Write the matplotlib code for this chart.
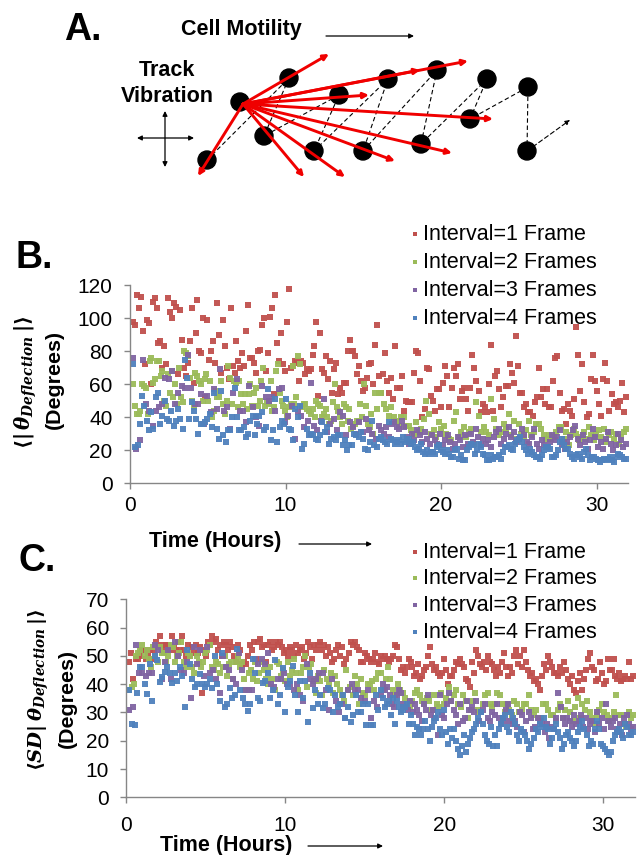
import numpy as np
import matplotlib
matplotlib.use("Agg")
import matplotlib.pyplot as plt
from matplotlib.patches import Ellipse

plt.rcParams['font.family'] = ['Liberation Sans', 'DejaVu Sans']
plt.rcParams['mathtext.fontset'] = 'custom'
plt.rcParams['mathtext.it'] = 'DejaVu Serif:italic:bold'
plt.rcParams['mathtext.rm'] = 'DejaVu Serif:bold'
plt.rcParams['mathtext.bf'] = 'DejaVu Serif:bold'
plt.rcParams['mathtext.fallback'] = 'stix'

COLORS = ['#C0504D', '#9BBB59', '#8064A2', '#4F81BD']
LABELS = ['Interval=1 Frame', 'Interval=2 Frames', 'Interval=3 Frames', 'Interval=4 Frames']
X_TICKS = [0, 10, 20, 30]
B_TICKS = [0, 20, 40, 60, 80, 100, 120]
C_TICKS = [0, 10, 20, 30, 40, 50, 60, 70]

b_red_early = [98,96,114,106,113,92,72,99,97,60,110,112,106,85,86,70,83,72,112,104,100,109,107,66,105,87,70,65,73,86,106,61,91,111,80,79,100,52,99,75,80,86,73,109,90,67,99,83,70,63,106,71,67,86,74,70,79,71,92,108,76,76,73,67,80,81,96,100,68,79,101,106,54,114,85,74,91,72,68,98,118,70,71,74,73,62,74,73,66,69,68,69,78,83,98,53,91,69,67,77,63,74,55,69,73,54,58,55,61,61,80,87,80,80,77,66,71,62,56,58,64,72,73,60,84,96]
b_red_late = [65,55,66,79,62,55,64,51,83,58,58,65,44,50,49,49,49,67,80,79,62,40,45,70,69,53,50,44,57,57,46,61,71,65,46,58,70,65,72,51,56,58,51,44,58,78,70,62,56,43,48,46,43,60,84,44,65,68,57,46,52,59,59,72,67,61,89,71,55,55,46,48,43,43,41,49,52,70,52,57,48,57,46,46,62,76,77,55,44,45,36,48,44,41,51,95,78,56,72,49,40,42,63,78,62,56,48,41,63,73,62,44,54,48,49,46,50,61,43,52]
b_green_early = [60,47,42,42,44,60,59,58,42,74,76,61,63,74,74,65,68,50,47,66,55,68,52,60,48,70,52,49,80,79,77,64,50,46,67,65,62,60,50,63,66,50,62,40,44,56,52,52,62,48,42,50,71,64,48,62,61,46,62,54,48,54,45,54,60,47,55,58,47,50,62,70,47,49,48,62,44,46,68,72,55,50,47,44,40,46,48,71,48,52,77,72,46,48,48,45,44,42,45,40,50,48,47,40,42,45,40,36,38,49,60,46,44,40,36,48,46,38,45,33,35,36,38,38,48,40,60,47,36,34,42,30,55,45]
b_green_late = [55,55,48,45,41,46,40,38,35,40,40,35,35,32,30,37,31,33,39,50,42,30,32,28,37,33,35,30,27,26,38,43,28,31,34,28,31,33,24,49,41,31,34,31,29,51,39,33,29,31,36,33,42,29,38,27,36,30,28,32,38,29,31,36,36,33,29,27,29,27,28,31,34,34,27,31,23,29,33,30,26,28,31,27,34,29,26,30,32,28,33,25,29,31,27,30,24,28,31,33]
b_purple_early = [76,21,26,75,48,44,35,44,46,48,64,63,68,48,55,59,58,78,58,48,48,54,36,53,43,57,45,69,44,46,33,55,63,44,44,37,59,46,40,35,59,52,50,52,44,57,58,37,41,47,27,43,41,34,38,61,35,32,38,51,31,36,39,32,43,41,29,37,34,30,37,31,39,32,30,27]
b_purple_late = [35,32,30,34,28,36,37,34,33,38,34,28,24,30,26,32,29,25,31,27,24,29,26,24,30,23,26,29,25,21,24,28,26,22,29,24,30,25,33,28,23,27,24,26,22,28,31,33,24,27,30,34,28,31,25,27,33,29,25,24,28,33,24,21,26,23,22,25,29,26,28,32,24,21,25,28,32,35,27,23,29,25,21,26,33,28,22,25,21,27,31,24,20,23,30,26,22,24]
b_blue_early = [72,22,23,36,53,47,38,32,43,33,52,55,36,41,50,39,38,44,35,38,45,39,33,75,64,39,49,44,39,30,36,36,37,39,42,34,55,33,27,56,29,25,32,32,40,58,40,32,32,34,28,30,38,41,29,36,41,43,32,34,57,26,32,51,25,34,38,36,51,33,32,26,45,40,47,21,24,33,29,30,29,27,26,29,37,31,34,24,27,28,26,29,29,23,26,20,23,23,30,29,28,31,27,21,20,25,38,23,22]
b_blue_late = [27,28,26,25,24,37,27,26,24,25,26,24,28,25,26,27,24,25,22,20,21,24,19,18,20,18,19,19,18,22,23,20,19,18,20,18,16,16,20,21,15,17,14,14,20,22,24,23,18,20,24,22,18,17,14,14,17,15,16,16,17,15,19,22,22,23,21,20,24,26,28,25,22,20,18,21,19,17,16,16,15,17,20,22,22,21,16,16,17,20,25,27,23,21,21,18,16,15,17,18,16,15,19,21,17,14,16,16,15,14,13,14,15,14,15,16,14,13,16,18,17,16,15,15]

c_red_early = [48,51,42,49,49,50,52,52,49,50,52,49,52,55,53,57,54,53,54,54,52,57,53,52,55,52,57,52,50,54,50,53,51,54,51,53,37,52,50,55,54,57,55,56,52,54,50,55,54,52,55,53,50,48,54,52,47,48,47,50,54,52,55,49,55,56,53,54,48,54,55,52,53,55,54,55,53,51,52,50,53,52,50,54,51,52,53,49,51,55,53,49,54,52,54,55,52,54,50,53,51,48,49,52,54,50,53,47,49,51,55,54,55,53,52,48,48,51,50,49,48,49,51,48,47]
c_red_late = [50,49,50,49,48,49,50,54,53,49,45,46,44,46,49,48,46,43,44,47,42,43,45,46,50,53,47,45,46,44,43,44,49,45,40,43,43,45,48,47,49,47,46,42,41,39,48,44,52,50,47,46,48,45,50,48,47,45,43,46,44,48,51,46,43,46,44,50,52,47,50,46,52,48,45,43,44,41,42,40,38,43,47,45,50,48,46,44,44,43,46,44,48,45,42,40,43,38,37,41,44,38,42,45,49,51,46,45,41,42,48,44,40,41,49,45,45,49,43,42,44,41,42,43,42,48,42,43]
c_green_early = [38,39,40,50,51,52,54,50,52,49,46,53,50,48,53,51,51,48,50,54,53,48,50,51,55,48,46,51,50,46,44,50,48,46,48,51,52,54,46,45,48,47,44,46,50,43,47,48,42,48,50,46,48,42,38,44,45,42,48,41,44,48,45,42,40,46,42,38,48,47,43,45,41,48,43,45,49,44,38,44,46,50,39,46,47,41,37,43,41,36,45,42,40,44,37,43,40,38,36,34,45,38,39,36,43,40,33,42,37,36,40,40,41,38,42,44]
c_green_late = [44,38,42,46,42,38,36,40,38,37,35,33,32,34,37,38,36,34,33,35,34,31,36,33,32,37,33,35,39,34,36,38,33,32,36,34,28,31,34,37,31,30,33,36,37,33,32,33,37,36,33,30,33,31,29,34,33,30,31,33,33,36,31,29,31,28,28,33,33,31,29,29,27,31,33,28,31,34,30,27,32,35,28,33,31,34,30,28,26,29,31,33,30,29,27,28,30,36,29,29,26,25,30,28,29]
c_purple_early = [31,32,54,44,44,43,44,44,54,52,42,48,52,42,55,50,45,44,48,35,53,47,52,43,53,44,45,42,37,50,46,45,42,40,51,45,38,38,38,49,47,49,47,51,40,39,42,42,44,40,40,38,40,36,34,47,42,40,42,44,44,38,31,42,34,30,33,28,38,40,38,38,35,34,38,28,34,32]
c_purple_late = [36,40,38,39,36,33,32,36,38,37,33,32,31,34,30,33,31,29,27,33,31,36,29,31,28,22,36,29,28,33,37,34,31,29,26,33,27,28,34,31,32,30,34,27,30,31,33,28,27,30,29,33,28,26,27,31,33,27,26,27,25,30,29,23,27,30,28,24,25,28,27,26,23,26,21,25,24,28,37,32,28,26,28,27,25,29,26,27,29,25,28,24,26,27,23,30,26,28,24,33,27,25,27,28,24,26,22,28,29,26,24,25]
c_blue_early = [38,26,25.6,37,46,46,40,36.5,47,34,50,48.5,40.6,42.6,44.4,46,44,40.5,44,41,46,43,32,52,47,42,39,40,43.6,40,39,40,42,38.5,50,40,34,51,32,33,38.5,35,36,52.5,38,35,33,30.5,33,49,44,35,34,40.5,41,44,35,38,48.5,33,36,45.6,30,39,41,46.4,36,30,41,35,41,26.7,44,31.4,38,33,36,31.4,33,38.5,38,30,36,32,33,36,28,32,26.5,29,36,30,30,33,25.5,33,25.5,25.5,36,31]
c_blue_late = [38,35,32,33,34,29,35,26,34,32,30,31,32,33,26,29,26,22,25,24,22,24,27,24,20,25,27,28,30,24,22,31,23,19,24,21,24,20,17,15,18,22,16,19,21,23,24,26,28,30,26,22,20,19,25,18,22,18,24,26,28,29,25,23,30,28,26,22,20,24,23,22,20,17,19,21,24,23,26,25,28,25,24,19,21,24,26,23,21,17,19,22,23,21,20,18,20,23,25,27,24,22,18,20,19,24,27,24,19,18,17,16,15,16,20,22,23,24,23,21,26,25,22,22,23]

# Panel A: schematic, in pixels of the figure
cells_x = [240, 207, 289, 264, 339, 314, 388, 363, 437, 421, 487, 470, 528, 527]
cells_y = [102, 160, 78, 136, 95, 151, 79, 151, 70, 144, 79, 119, 87, 151]
track_x = [207, 289, 264, 339, 314, 388, 363, 437, 421, 487, 470, 528, 527]
track_y = [160, 78, 136, 95, 151, 79, 151, 70, 144, 79, 119, 87, 151]
red_end_x = [329, 468, 420, 369, 493, 452, 395, 345, 304, 198]
red_end_y = [54, 61, 70, 95, 119, 153, 161, 177, 177, 176]

W, H = 640, 855
fig = plt.figure(figsize=(W / 100, H / 100), dpi=100)
ax0 = fig.add_axes([0, 0, 1, 1])
ax0.set_xlim(0, W)
ax0.set_ylim(H, 0)
ax0.axis('off')


def arrow(x0, y0, x1, y1, color='black', lw=1.0, style='-|>', ms=7, ls='-', z=3):
    ax0.annotate('', xy=(x1, y1), xytext=(x0, y0),
                 arrowprops=dict(arrowstyle=style, color=color, lw=lw, ls=ls,
                                 mutation_scale=ms, shrinkA=0, shrinkB=0), zorder=z)


ax0.plot(track_x, track_y, color='black', lw=0.8, ls=(0, (4, 2.5)), zorder=1)
arrow(527, 151, 570, 120, lw=0.8, ms=7, ls=(0, (4, 2.5)))
for cx, cy in zip(cells_x, cells_y):
    ax0.add_patch(Ellipse((cx, cy), 18, 18, color='black', zorder=2))
for ex, ey in zip(red_end_x, red_end_y):
    arrow(243, 104, ex, ey, color='#F00000', lw=2.1, ms=8)

arrow(326, 36, 414, 36, lw=0.9, ms=7)
arrow(137, 138, 194, 138, lw=0.9, style='<|-|>', ms=7)
arrow(165, 111, 165, 167, lw=0.9, style='<|-|>', ms=7)
arrow(299, 544, 372, 544, lw=0.9, ms=7)
arrow(308, 846, 383, 846, lw=0.9, ms=7)

bold = dict(fontweight='bold', color='black')
ax0.text(64, 30, 'A.', fontsize=27, ha='left', va='center', **bold)
ax0.text(16, 258, 'B.', fontsize=27, ha='left', va='center', **bold)
ax0.text(19, 561, 'C.', fontsize=27, ha='left', va='center', **bold)
ax0.text(241, 30, 'Cell Motility', fontsize=15.5, ha='center', va='center', **bold)
ax0.text(167, 71, 'Track', fontsize=15.5, ha='center', va='center', **bold)
ax0.text(167, 96, 'Vibration', fontsize=15.5, ha='center', va='center', **bold)
ax0.text(215, 541, 'Time (Hours)', fontsize=15.5, ha='center', va='center', **bold)
ax0.text(226, 845, 'Time (Hours)', fontsize=15.5, ha='center', va='center', **bold)
ax0.text(54, 379, '(Degrees)', fontsize=15.4, rotation=90, ha='center', va='center', **bold)
ax0.text(67, 698, '(Degrees)', fontsize=15.4, rotation=90, ha='center', va='center', **bold)
ax0.text(26, 382, r'$\langle|\,\theta_{Deflection}\,|\rangle$', fontsize=14.2,
         rotation=90, ha='center', va='center')
ax0.text(39, 690, r'$\langle SD|\,\theta_{Deflection}\,|\rangle$', fontsize=14,
         rotation=90, ha='center', va='center')


def panel(box, ymax, yticks, series, legend_y, xpad):
    left, right, top, bottom = box
    ax = fig.add_axes([left / W, 1 - bottom / H, (right - left) / W, (bottom - top) / H])
    ax.patch.set_alpha(0)
    for (early, late), c in zip(series, COLORS):
        t = np.concatenate([np.linspace(0.2, 16, len(early), endpoint=False),
                            np.linspace(16, 31.9, len(late))])
        v = np.array(list(early) + list(late), dtype=float)
        ax.scatter(t, v, s=20, marker='s', color=c, alpha=0.95, linewidths=0, clip_on=False)
    ax.set_xlim(0, 32)
    ax.set_ylim(0, ymax)
    ax.set_xticks(X_TICKS)
    ax.set_yticks(yticks)
    ax.tick_params(axis='both', labelsize=15, length=4.5, width=1, color='#868686')
    ax.tick_params(axis='y', pad=8)
    ax.tick_params(axis='x', pad=xpad)
    for s in ('top', 'right'):
        ax.spines[s].set_visible(False)
    for s in ('left', 'bottom'):
        ax.spines[s].set_color('#868686')
        ax.spines[s].set_linewidth(1.0)
    for y, c, label in zip(legend_y, COLORS, LABELS):
        ax0.scatter([415], [y], s=12, marker='s', color=c, linewidths=0, zorder=3)
        ax0.text(423, y, label, fontsize=15.5, ha='left', va='center', color='black', zorder=5)
    return ax


panel((130, 627.6, 285.3, 483.3), 120, B_TICKS,
      [(b_red_early, b_red_late), (b_green_early, b_green_late),
       (b_purple_early, b_purple_late), (b_blue_early, b_blue_late)],
      [234, 262, 290, 318], 5)
panel((126.3, 635, 599.3, 797.3), 70, C_TICKS,
      [(c_red_early, c_red_late), (c_green_early, c_green_late),
       (c_purple_early, c_purple_late), (c_blue_early, c_blue_late)],
      [552, 578, 605, 632], 9)

fig.savefig('out.png', dpi=100)
